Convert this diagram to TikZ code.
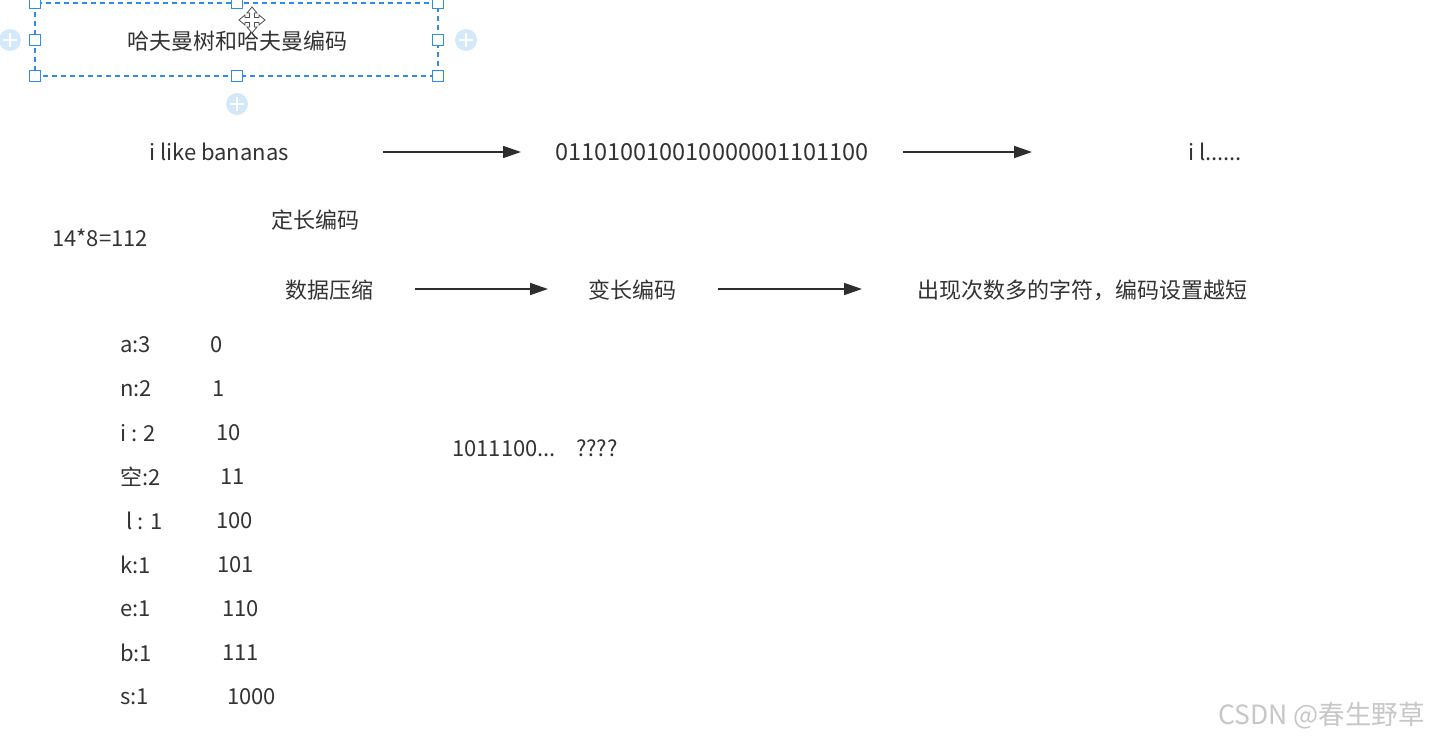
\documentclass[tikz,border=0pt]{standalone}
\usepackage{fontspec}
\setmainfont{Noto Sans CJK SC}
\usetikzlibrary{arrows.meta}
\definecolor{txt}{HTML}{333333}
\definecolor{selblue}{HTML}{2E8DE6}
\definecolor{pluscirc}{HTML}{D3E9FA}
\begin{document}
\begin{tikzpicture}[x=1pt,y=-1pt,
  lbl/.style={inner sep=0pt,text=txt,font=\fontsize{22}{26}\selectfont},
  cell/.style={lbl,anchor=west},
  flow/.style={draw=txt!90!black,line width=1.7pt,-{Triangle[length=18pt,width=12pt]}},
  handle/.style={draw=selblue,fill=white,line width=1.1pt,minimum size=10.5pt,inner sep=0pt},
  plusc/.style={circle,fill=pluscirc,minimum size=22pt,inner sep=0pt},
  wmark/.style={inner sep=0pt,anchor=west,text=black!22,font=\fontsize{26.5}{30}\selectfont}]
\useasboundingbox (0,0) rectangle (1432,742);
\fill[white] (0,0) rectangle (1432,742);

% selected title box
\draw[selblue,line width=1.3pt,dash pattern=on 5pt off 4pt] (35,3) rectangle (438,76);
\node[lbl] (title) at (237,41) {哈夫曼树和哈夫曼编码};
\foreach \p/\n in {{35,3}/h1,{237,3}/h2,{438,3}/h3,{35,40}/h4,{438,40}/h5,{35,76}/h6,{237,76}/h7,{438,76}/h8}
  \node[handle] (\n) at (\p) {};
\foreach \p/\n in {{10,40}/c1,{466,40}/c2,{237,104}/c3}{
  \node[plusc] (\n) at (\p) {};
  \draw[white,line width=2.6pt] ([xshift=-7pt]\n.center) -- ([xshift=7pt]\n.center);
  \draw[white,line width=2.6pt] ([yshift=-7pt]\n.center) -- ([yshift=7pt]\n.center);
}
% move cursor
\coordinate (mv) at (252,20);
\draw[black!70,fill=white,line width=0.8pt]
  ([xshift=-2.5pt,yshift=-2.5pt]mv) -- ([xshift=-2.5pt,yshift=-7pt]mv) -- ([xshift=-5pt,yshift=-7pt]mv) -- ([yshift=-13pt]mv)
  -- ([xshift=5pt,yshift=-7pt]mv) -- ([xshift=2.5pt,yshift=-7pt]mv) -- ([xshift=2.5pt,yshift=-2.5pt]mv)
  -- ([xshift=7pt,yshift=-2.5pt]mv) -- ([xshift=7pt,yshift=-5pt]mv) -- ([xshift=13pt]mv)
  -- ([xshift=7pt,yshift=5pt]mv) -- ([xshift=7pt,yshift=2.5pt]mv) -- ([xshift=2.5pt,yshift=2.5pt]mv)
  -- ([xshift=2.5pt,yshift=7pt]mv) -- ([xshift=5pt,yshift=7pt]mv) -- ([yshift=13pt]mv)
  -- ([xshift=-5pt,yshift=7pt]mv) -- ([xshift=-2.5pt,yshift=7pt]mv) -- ([xshift=-2.5pt,yshift=2.5pt]mv)
  -- ([xshift=-7pt,yshift=2.5pt]mv) -- ([xshift=-7pt,yshift=5pt]mv) -- ([xshift=-13pt]mv)
  -- ([xshift=-7pt,yshift=-5pt]mv) -- ([xshift=-7pt,yshift=-2.5pt]mv) -- cycle;

% first row
\node[lbl] (src) at (219,152) {i like bananas};
\node[lbl,font=\fontsize{23.5}{27}\selectfont] (bits) at (712,152) {011010010010000001101100};
\node[lbl] (dec) at (1215,152) {i l......};
\coordinate (a1s) at (383,152); \coordinate (a1e) at (521,152);
\coordinate (a2s) at (903,152); \coordinate (a2e) at (1032,152);
\draw[flow] (a1s) -- (a1e);
\draw[flow] (a2s) -- (a2e);

\node[lbl] (fixed) at (315,220) {定长编码};
\node[lbl] (calc) at (100,238) {14*8=112};

% second row
\node[lbl] (comp) at (329,290) {数据压缩};
\node[lbl] (var) at (632,290) {变长编码};
\node[lbl,anchor=west] (rule) at (917,290) {出现次数多的字符，编码设置越短};
\coordinate (a3s) at (415,289); \coordinate (a3e) at (548,289);
\coordinate (a4s) at (718,289); \coordinate (a4e) at (862,289);
\draw[flow] (a3s) -- (a3e);
\draw[flow] (a4s) -- (a4e);

% table
\node[cell] (k1) at (120,345) {a:3};   \node[cell] (v1) at (210,345) {0};
\node[cell] (k2) at (120,389) {n:2};   \node[cell] (v2) at (212,389) {1};
\node[cell] (k3) at (120,433) {i : 2}; \node[cell] (v3) at (216,433) {10};
\node[cell] (k4) at (120,477) {空:2};  \node[cell] (v4) at (220,477) {11};
\node[cell] (k5) at (126,521) {l : 1}; \node[cell] (v5) at (216,521) {100};
\node[cell] (k6) at (120,565) {k:1};   \node[cell] (v6) at (217,565) {101};
\node[cell] (k7) at (120,609) {e:1};   \node[cell] (v7) at (222,609) {110};
\node[cell] (k8) at (120,653) {b:1};   \node[cell] (v8) at (222,653) {111};
\node[cell] (k9) at (120,697) {s:1};   \node[cell] (v9) at (227,697) {1000};

\node[cell] (q) at (452,448) {1011100...\hspace{20pt}????};

\node[wmark] (wm) at (1218,716) {CSDN @春生野草};
\end{tikzpicture}
\end{document}
